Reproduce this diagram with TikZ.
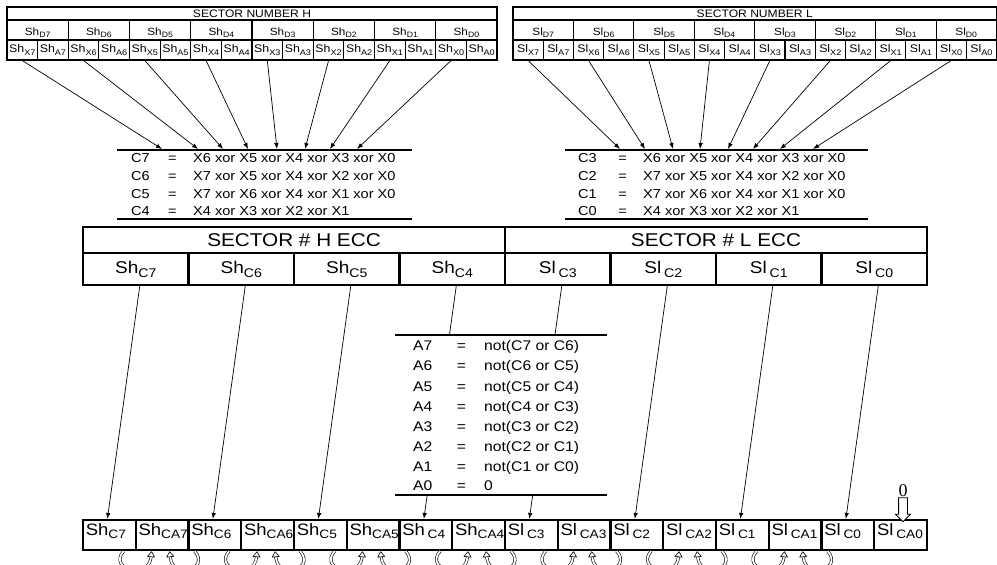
\documentclass[tikz,border=0pt]{standalone}
\usepackage{graphicx}
\usepackage{fontspec}
\setmainfont[FakeStretch=1.12]{Liberation Sans}
\newfontfamily\zerofont{Liberation Serif}
\usetikzlibrary{arrows.meta,shapes.arrows,calc}
\newcommand{\lo}[1]{\raisebox{-0.45ex}{\scalebox{0.74}{#1}}}
\newcommand{\fs}[1]{\fontsize{#1}{#1}\selectfont}

\begin{document}
\begin{tikzpicture}[x=1pt, y=-1pt,
    tcell/.style={draw, line width=1.1pt, inner sep=0pt, minimum height=20},
    ecell/.style={draw, line width=2.2pt, inner sep=0pt, font=\fs{17}},
    bcell/.style={draw, line width=2.2pt, inner xsep=2.9pt, inner ysep=0pt, minimum width=52.75, minimum height=30, text height=10pt, text depth=10pt, font=\fs{16.5}},
    eqn/.style={inner sep=0pt, font=\fs{13}},
    aeqn/.style={inner sep=0pt, font=\fs{14}},
    rule/.style={line width=1.8pt},
    link/.style={line width=0.7pt, -{Latex[length=6pt,width=4.5pt]}},
    curl/.style={double, double distance=1.8pt, line width=0.6pt, -{Triangle[open,length=6pt,width=8pt]}},
]
\useasboundingbox (0,0) rectangle (997,565);
\clip (0,0) rectangle (997,565);

% sector H, data bytes
\def\hl{7} \def\hw{61.25}
\node[tcell, minimum width=490, minimum height=13, font=\fs{10.8}] (hTitle) at (252,13.5) {SECTOR NUMBER H};
\foreach \i in {0,...,7} {
    \pgfmathtruncatemacro{\n}{7-\i}
    \pgfmathsetmacro{\cx}{\hl+\hw*\i}
    \node[tcell, minimum width=\hw, text height=11pt, text depth=1pt, font=\fs{10.5}] (hD\n) at (\cx+\hw/2,30) {Sh\lo{D\n}};
    \node[tcell, minimum width=\hw/2, font=\fs{11}] (hX\n) at (\cx+\hw/4,50) {Sh\lo{X\n}};
    \node[tcell, minimum width=\hw/2, font=\fs{11}] (hA\n) at (\cx+3*\hw/4,50) {Sh\lo{A\n}};
}

% sector L, data bytes
\def\ll{513} \def\lw{60.4375}
\node[tcell, minimum width=483.5, minimum height=13, font=\fs{10.8}] (lTitle) at (754.75,13.5) {SECTOR NUMBER L};
\foreach \i in {0,...,7} {
    \pgfmathtruncatemacro{\n}{7-\i}
    \pgfmathsetmacro{\cx}{\ll+\lw*\i}
    \node[tcell, minimum width=\lw, text height=11pt, text depth=1pt, font=\fs{10.5}] (lD\n) at (\cx+\lw/2,30) {Sl\lo{D\n}};
    \node[tcell, minimum width=\lw/2, font=\fs{11}] (lX\n) at (\cx+\lw/4,50) {Sl\lo{X\n}};
    \node[tcell, minimum width=\lw/2, font=\fs{11}] (lA\n) at (\cx+3*\lw/4,50) {Sl\lo{A\n}};
}

% X bits into the check equations
\foreach \n/\tx in {7/162,6/198,5/223,4/248,3/277,2/305,1/330,0/357} {
    \coordinate (hin\n) at (\tx,149);
    \draw[link] (hX\n.south) -- (hin\n);
}
\foreach \n/\tx in {7/620,6/645,5/673,4/700,3/728,2/753,1/780,0/813} {
    \coordinate (lin\n) at (\tx,149);
    \draw[link] (lX\n.south) -- (lin\n);
}

% check equations
\draw[rule] (117,150) -- (412,150);
\draw[rule] (117,219) -- (412,219);
\foreach \c/\ex [count=\r from 0] in {C7/X6 xor X5 xor X4 xor X3 xor X0, C6/X7 xor X5 xor X4 xor X2 xor X0, C5/X7 xor X6 xor X4 xor X1 xor X0, C4/X4 xor X3 xor X2 xor X1} {
    \pgfmathsetmacro{\by}{162.7+17.7*\r}
    \node[eqn, anchor=base west] (hL\r) at (131,\by) {\c};
    \node[eqn, anchor=base] (hQ\r) at (172.5,\by) {=};
    \node[eqn, anchor=base west] (hR\r) at (193,\by) {\ex};
}
\draw[rule] (565,150) -- (868,150);
\draw[rule] (565,219) -- (868,219);
\foreach \c/\ex [count=\r from 0] in {C3/X6 xor X5 xor X4 xor X3 xor X0, C2/X7 xor X5 xor X4 xor X2 xor X0, C1/X7 xor X6 xor X4 xor X1 xor X0, C0/X4 xor X3 xor X2 xor X1} {
    \pgfmathsetmacro{\by}{162.7+17.7*\r}
    \node[eqn, anchor=base west] (lL\r) at (578,\by) {\c};
    \node[eqn, anchor=base] (lQ\r) at (622.5,\by) {=};
    \node[eqn, anchor=base west] (lR\r) at (643,\by) {\ex};
}

% ECC bytes
\def\el{83} \def\ew{105.5}
\node[ecell, minimum width=4*\ew, minimum height=26, font=\fs{18.5}] (eH) at (\el+2*\ew,240) {SECTOR \# H ECC};
\node[ecell, minimum width=4*\ew, minimum height=26, font=\fs{18.5}] (eL) at (\el+6*\ew,240) {SECTOR \# L ECC};
\foreach \n/\pre [count=\i from 0] in {7/Sh,6/Sh,5/Sh,4/Sh,3/Sl\,,2/Sl\,,1/Sl\,,0/Sl\,} {
    \node[ecell, minimum width=\ew, minimum height=32] (eC\n) at (\el+\ew*\i+\ew/2,269) {\pre\lo{C\n}};
}

% stored bytes
\def\bw{52.75}
\foreach \n/\pc/\pa [count=\i from 0] in {7/Sh/Sh,6/Sh/Sh,5/Sh/Sh,4/Sh\,/Sh,3/Sl\,/Sl\,,2/Sl\,/Sl\,,1/Sl\,/Sl\,,0/Sl\,/Sl\,} {
    \pgfmathsetmacro{\cx}{\el+2*\bw*\i}
    \node[bcell] (bC\n) at (\cx+\bw/2,535) {\makebox[47pt][l]{\pc\lo{C\n}}};
    \node[bcell] (bA\n) at (\cx+3*\bw/2,535) {\makebox[47pt][l]{\pa\lo{CA\n}}};
}

\foreach \n in {7,...,0} {
    \draw[link] ([xshift=4pt]eC\n.south) -- ([xshift=-2pt]bC\n.north);
}

% A equations (cover the links behind)
\node[fill=white, inner sep=0pt, minimum width=212, minimum height=160] (aBox) at (501,415) {};
\draw[rule, line width=2.2pt] (aBox.north west) -- (aBox.north east);
\draw[rule, line width=2.2pt] (aBox.south west) -- (aBox.south east);
\foreach \a/\ex [count=\r from 0] in {A7/not(C7 or C6), A6/not(C6 or C5), A5/not(C5 or C4), A4/not(C4 or C3), A3/not(C3 or C2), A2/not(C2 or C1), A1/not(C1 or C0), A0/0} {
    \pgfmathsetmacro{\by}{\r<7 ? 350.7+20.2*\r : 490}
    \node[aeqn, anchor=base west] (aL\r) at (413,\by) {\a};
    \node[aeqn, anchor=base] (aQ\r) at (461.5,\by) {=};
    \node[aeqn, anchor=base west] (aR\r) at (484,\by) {\ex};
}

% constant zero
\node[single arrow, draw, line width=0.8pt, fill=white, rotate=-90, minimum height=24, inner sep=4pt, single arrow head extend=3pt, single arrow head indent=0pt] (zArr) at (903,507.5) {};
\node[font=\zerofont\fs{18}, anchor=south, inner sep=0.5pt] (zLbl) at (zArr.tail) {0};

% adjacent C bits into CA
\foreach \n in {7,...,1} {
    \draw[curl] ([xshift=-11pt]bA\n.south west) .. controls +(-16,18) and +(-3,30) .. ([xshift=17pt]bA\n.south west);
    \draw[curl] ([xshift=5pt]bA\n.south east) .. controls +(16,18) and +(3,30) .. ([xshift=-20pt]bA\n.south east);
}
\end{tikzpicture}
\end{document}
